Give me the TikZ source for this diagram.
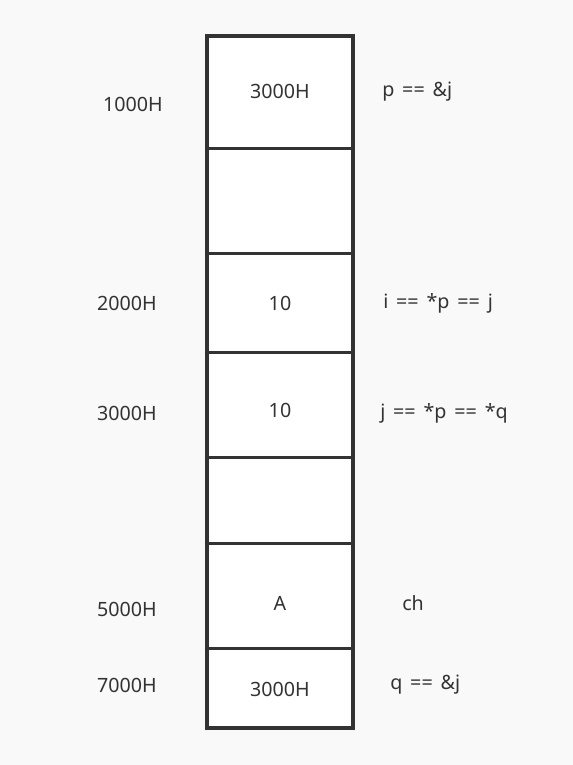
\documentclass[tikz,border=0pt]{standalone}
\usepackage{fontspec}
\setmainfont{Noto Sans}
\usepackage{xcolor}
\usepackage{tikz}
\usetikzlibrary{positioning}

\definecolor{inkgray}{HTML}{333333}
\definecolor{pagebg}{HTML}{F9F9F9}
\newcommand{\notefont}{\fontsize{14}{16}\selectfont\spaceskip=0.4em\relax}

\begin{document}
\begin{tikzpicture}[
  x=0.025cm, y=-0.025cm,
  cell/.style={draw=inkgray, line width=1.6pt, fill=white,
    minimum width=3.6cm, inner sep=0pt},
  frame/.style={draw=inkgray, line width=2.1pt},
  divider/.style={draw=inkgray, line width=1.6pt, shorten <=-1.5pt, shorten >=-1.5pt},
  val/.style={text=inkgray, font=\fontsize{14}{16}\selectfont, inner sep=0pt},
  addr/.style={text=inkgray, font=\fontsize{14}{16}\selectfont, inner sep=0pt},
  note/.style={text=inkgray, font=\notefont, inner sep=0pt, anchor=west},
]
\fill[pagebg] (0,0) rectangle (573,765);
\useasboundingbox (0,0) rectangle (573,765);
% memory cells
\node[cell, minimum height=2.775cm] (c1) at (280,92.5)  {};
\node[cell, minimum height=2.625cm] (c2) at (280,200.5) {};
\node[cell, minimum height=2.475cm] (c3) at (280,302.5) {};
\node[cell, minimum height=2.625cm] (c4) at (280,404.5) {};
\node[cell, minimum height=2.15cm]  (c5) at (280,500)   {};
\node[cell, minimum height=2.625cm] (c6) at (280,595.5) {};
\node[cell, minimum height=1.975cm] (c7) at (280,687.5) {};
\draw[frame] (c1.north west) rectangle (c7.south east);
\draw[divider] (c1.south west) -- (c1.south east);
\draw[divider] (c2.south west) -- (c2.south east);
\draw[divider] (c3.south west) -- (c3.south east);
\draw[divider] (c4.south west) -- (c4.south east);
\draw[divider] (c5.south west) -- (c5.south east);
\draw[divider] (c6.south west) -- (c6.south east);
% contents
\node[val] (v1) at (280,91)  {3000H};
\node[val] (v3) at (280,303) {10};
\node[val] (v4) at (280,410) {10};
\node[val] (v6) at (280,603) {A};
\node[val] (v7) at (280,689) {3000H};
% addresses
\node[addr] (a1) at (133,104) {1000H};
\node[addr] (a3) at (127,303) {2000H};
\node[addr] (a4) at (127,413) {3000H};
\node[addr] (a6) at (127,609) {5000H};
\node[addr] (a7) at (127,685) {7000H};
% variables
\node[note] (n1) at (382,92)  {p == \&j};
\node[note] (n3) at (383,303) {i == *p == j};
\node[note] (n4) at (380,413) {j == *p == *q};
\node[note] (n6) at (402,603) {ch};
\node[note] (n7) at (390,685) {q == \&j};
\end{tikzpicture}
\end{document}
